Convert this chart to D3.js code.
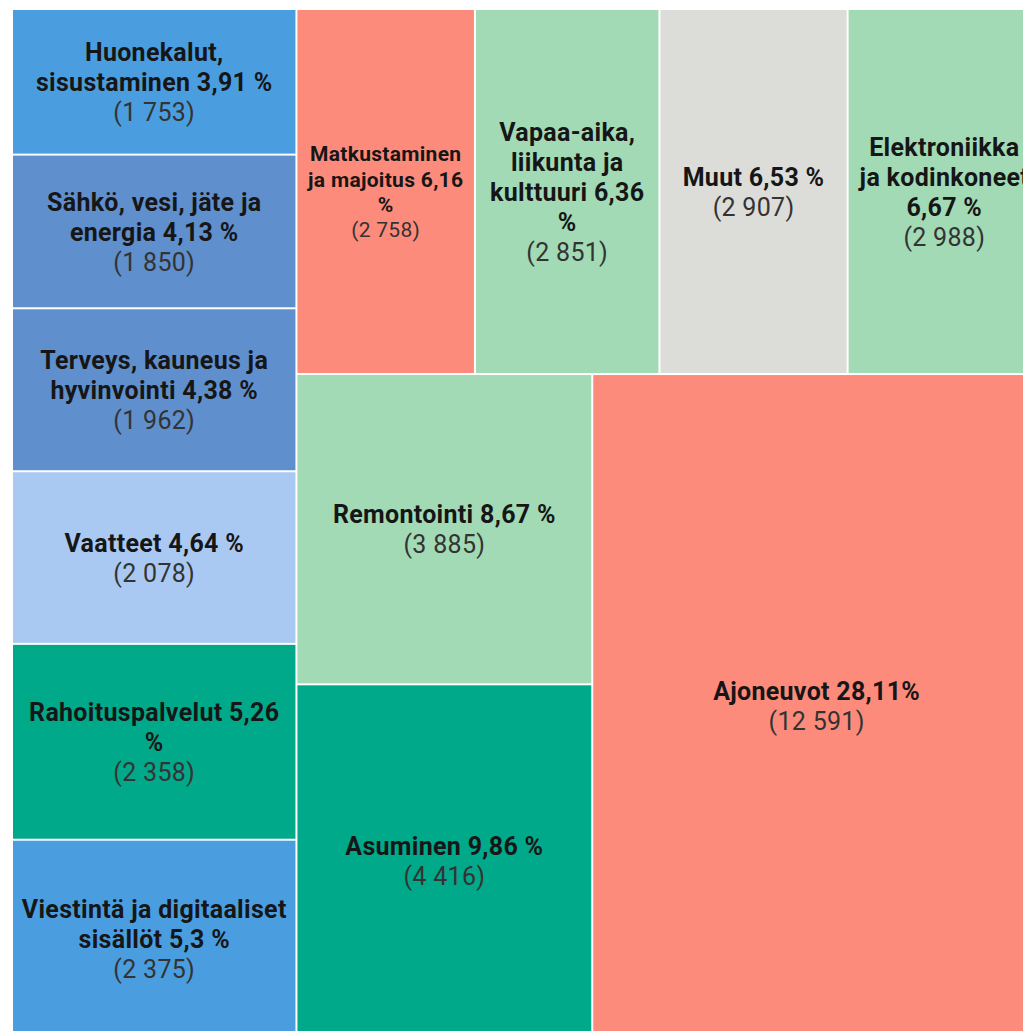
<!DOCTYPE html>
<html>
<head>
<meta charset="utf-8">
<script src="https://d3js.org/d3.v7.min.js"></script>
<style>
  body { margin: 0; background: #fff; }
  svg { display: block; }
</style>
</head>
<body>
<script type="text/javascript">

// categories, counts and shown percentage labels
var names = [
  "Huonekalut, sisustaminen", "Sähkö, vesi, jäte ja energia", "Terveys, kauneus ja hyvinvointi",
  "Vaatteet", "Rahoituspalvelut", "Viestintä ja digitaaliset sisällöt",
  "Matkustaminen ja majoitus", "Vapaa-aika, liikunta ja kulttuuri", "Muut", "Elektroniikka ja kodinkoneet",
  "Remontointi", "Asuminen", "Ajoneuvot"
];
var values = [1753, 1850, 1962, 2078, 2358, 2375, 2758, 2851, 2907, 2988, 3885, 4416, 12591];
var pctLabels = ["3,91 %", "4,13 %", "4,38 %", "4,64 %", "5,26 %", "5,3 %",
  "6,16 %", "6,36 %", "6,53 %", "6,67 %", "8,67 %", "9,86 %", "28,11%"];

// how the tiles are grouped (indexes into names)
var leftColumn = [0, 1, 2, 3, 4, 5];
var topRow = [6, 7, 8, 9];
var midColumn = [10, 11];
var bigTile = 12;

var palette = ["#4a9ee0", "#5f8fcc", "#5f8fcc", "#a9c9f2", "#00a98a", "#4a9ee0",
  "#fd8b7c", "#a1dab5", "#dcdcd8", "#a1dab5", "#a1dab5", "#00a98a", "#fd8b7c"];
var color = d3.scaleOrdinal().domain(names).range(palette);

var fmt = d3.formatLocale({decimal: ",", thousands: " ", grouping: [3], currency: ["", ""]}).format(",d");

function leaf(i) { return {name: names[i], value: values[i], pct: pctLabels[i]}; }

var tree = {name: "root", children: [
  {name: "left", children: leftColumn.map(leaf)},
  {name: "right", children: [
    {name: "top", children: topRow.map(leaf)},
    {name: "bottom", children: [
      {name: "mid", children: midColumn.map(leaf)},
      leaf(bigTile)
    ]}
  ]}
]};

var W = 1023, H = 1031;
var ox = 13, oy = 10;

var svg = d3.select("body").append("svg")
  .attr("width", W)
  .attr("height", H);

var root = d3.hierarchy(tree).sum(function(d){ return d.value || 0; });

d3.treemap()
  .tile(d3.treemapSliceDice)
  .size([1027, 1026])
  .paddingInner(2)(root);

var cells = svg.append("g")
  .attr("transform", "translate(" + ox + "," + oy + ")")
  .selectAll("g")
  .data(root.leaves())
  .enter().append("g")
    .attr("transform", function(d){ return "translate(" + d.x0 + "," + d.y0 + ")"; });

cells.append("rect")
  .attr("width", function(d){ return d.x1 - d.x0; })
  .attr("height", function(d){ return d.y1 - d.y0; })
  .style("fill", function(d){ return color(d.data.name); });

// measuring helper
var probe = svg.append("text")
  .style("font-family", "Roboto")
  .style("font-weight", "bold")
  .style("letter-spacing", "0.3px");
function measure(s, size) {
  probe.style("font-size", size + "px").text(s);
  return probe.node().getComputedTextLength();
}

cells.each(function(d) {
  var w = d.x1 - d.x0, h = d.y1 - d.y0;
  var maxW = w - 16;
  var words = (d.data.name + " " + d.data.pct).split(" ");
  var fs = 25;
  while (fs > 8 && d3.max(words, function(s){ return measure(s, fs); }) > maxW - 6) fs -= 1;

  var lines = [], cur = "";
  words.forEach(function(word) {
    var test = cur ? cur + " " + word : word;
    if (cur && measure(test, fs) > maxW) { lines.push(cur); cur = word; }
    else cur = test;
  });
  lines.push(cur);

  var lh = fs * 1.2;
  var n = lines.length + 1;
  var y0 = h / 2 - (n - 1) / 2 * lh + fs * 0.37;

  var t = d3.select(this).append("text")
    .attr("text-anchor", "middle")
    .style("font-family", "Roboto")
    .style("letter-spacing", "0.3px")
    .style("font-size", fs + "px");

  lines.forEach(function(l, i) {
    t.append("tspan")
      .attr("x", w / 2)
      .attr("y", y0 + i * lh)
      .style("font-weight", "bold")
      .style("fill", "#161616")
      .text(l);
  });
  t.append("tspan")
    .attr("x", w / 2)
    .attr("y", y0 + lines.length * lh)
    .style("fill", "#333")
    .text("(" + fmt(d.data.value) + ")");
});

probe.remove();

</script>
</body>
</html>
